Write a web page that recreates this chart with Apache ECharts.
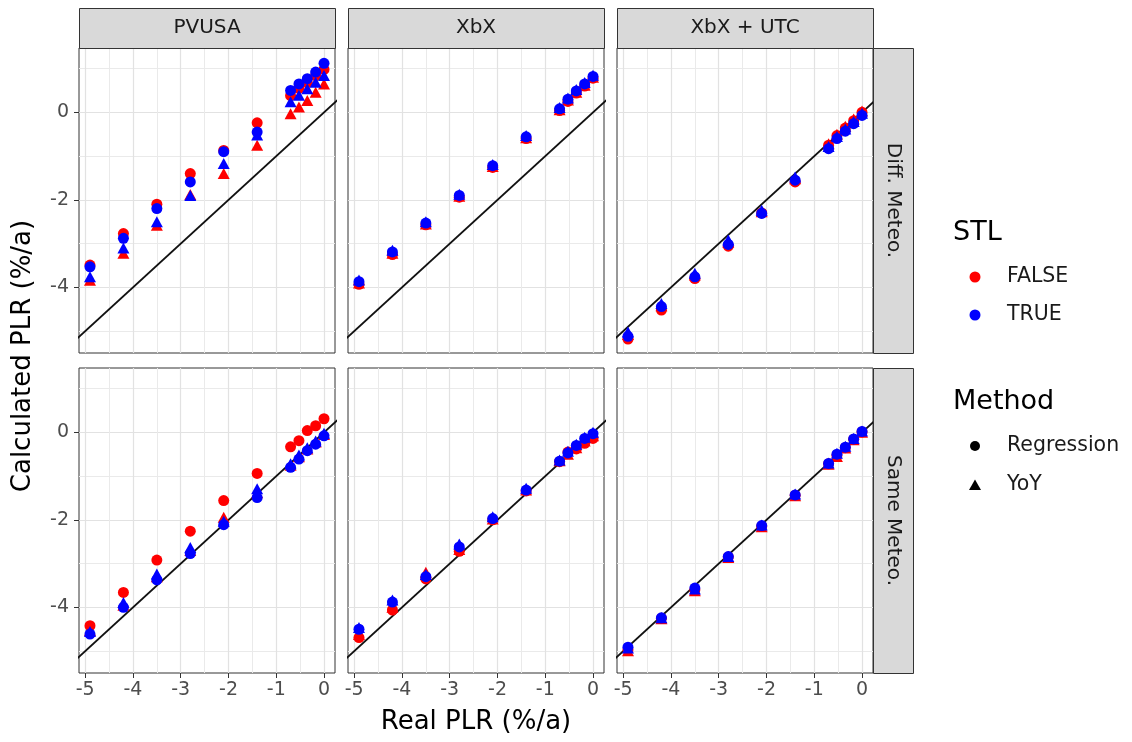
<!DOCTYPE html>
<html><head><meta charset="utf-8">
<script src="https://cdn.jsdelivr.net/npm/echarts@6/dist/echarts.min.js"></script>
<style>html,body{margin:0;padding:0;background:#fff}#c{width:1132px;height:742px}</style>
</head><body><div id="c"></div><script>
// ---------- data ----------
const realPLR = [-4.9, -4.2, -3.5, -2.8, -2.1, -1.4, -0.7, -0.525, -0.35, -0.175, 0];
const xMajorTicks = [-5, -4, -3, -2, -1, 0];
const xMinorTicks = [-4.5, -3.5, -2.5, -1.5, -0.5];
const yMajorTicks = [-4, -2, 0];
const yMinorTicks = [-5, -3, -1, 1];
const identityLine = [-6, 2];
const columnLabels = ['PVUSA', 'XbX', 'XbX + UTC'];
const rowLabels = ['Diff. Meteo.', 'Same Meteo.'];
const stlLevels = ['FALSE', 'TRUE'];
const methodLevels = ['Regression', 'YoY'];

// Diff. Meteo. row
const pvusaDiff_RegFALSE = [-3.49, -2.77, -2.10, -1.40, -0.87, -0.24, 0.38, 0.55, 0.68, 0.84, 0.98];
const pvusaDiff_YoyFALSE = [-3.84, -3.22, -2.58, -1.88, -1.40, -0.75, -0.03, 0.12, 0.27, 0.46, 0.65];
const pvusaDiff_RegTRUE  = [-3.53, -2.88, -2.20, -1.59, -0.90, -0.45, 0.50, 0.65, 0.77, 0.92, 1.12];
const pvusaDiff_YoyTRUE  = [-3.76, -3.10, -2.50, -1.90, -1.17, -0.52, 0.24, 0.39, 0.54, 0.69, 0.84];

const xbxDiff_RegFALSE = [-3.93, -3.25, -2.57, -1.94, -1.26, -0.60, 0.04, 0.25, 0.44, 0.60, 0.78];
const xbxDiff_YoyFALSE = [-3.90, -3.22, -2.55, -1.92, -1.24, -0.58, 0.06, 0.28, 0.46, 0.62, 0.80];
const xbxDiff_RegTRUE  = [-3.87, -3.19, -2.53, -1.90, -1.22, -0.56, 0.08, 0.30, 0.49, 0.65, 0.82];
const xbxDiff_YoyTRUE  = [-3.83, -3.15, -2.50, -1.87, -1.19, -0.53, 0.11, 0.33, 0.52, 0.68, 0.85];

const utcDiff_RegFALSE = [-5.18, -4.52, -3.80, -3.06, -2.30, -1.59, -0.75, -0.53, -0.36, -0.19, 0.00];
const utcDiff_YoyFALSE = [-5.08, -4.42, -3.72, -2.97, -2.27, -1.52, -0.72, -0.50, -0.32, -0.15, 0.03];
const utcDiff_RegTRUE  = [-5.12, -4.44, -3.76, -3.02, -2.31, -1.55, -0.83, -0.60, -0.43, -0.26, -0.07];
const utcDiff_YoyTRUE  = [-5.02, -4.37, -3.68, -2.92, -2.24, -1.48, -0.78, -0.55, -0.38, -0.21, -0.02];

// Same Meteo. row
const pvusaSame_RegFALSE = [-4.42, -3.66, -2.92, -2.26, -1.56, -0.94, -0.33, -0.19, 0.04, 0.15, 0.31];
const pvusaSame_YoyFALSE = [-4.53, -3.95, -3.30, -2.70, -1.94, -1.38, -0.75, -0.56, -0.38, -0.22, -0.05];
const pvusaSame_RegTRUE  = [-4.61, -4.00, -3.37, -2.77, -2.11, -1.49, -0.80, -0.61, -0.42, -0.27, -0.08];
const pvusaSame_YoyTRUE  = [-4.55, -3.89, -3.24, -2.63, -2.03, -1.29, -0.72, -0.52, -0.35, -0.20, -0.02];

const xbxSame_RegFALSE = [-4.69, -4.06, -3.35, -2.72, -2.00, -1.34, -0.67, -0.45, -0.38, -0.25, -0.14];
const xbxSame_YoyFALSE = [-4.62, -4.00, -3.20, -2.68, -1.98, -1.32, -0.65, -0.50, -0.35, -0.20, -0.08];
const xbxSame_RegTRUE  = [-4.50, -3.88, -3.30, -2.62, -1.97, -1.32, -0.66, -0.47, -0.30, -0.14, -0.03];
const xbxSame_YoyTRUE  = [-4.46, -3.83, -3.25, -2.55, -1.93, -1.28, -0.63, -0.43, -0.27, -0.11, 0.00];

const utcSame_RegFALSE = [-4.97, -4.25, -3.60, -2.85, -2.15, -1.44, -0.72, -0.53, -0.35, -0.16, 0.01];
const utcSame_YoyFALSE = [-4.99, -4.26, -3.62, -2.86, -2.16, -1.45, -0.73, -0.55, -0.36, -0.17, 0.00];
const utcSame_RegTRUE  = [-4.91, -4.24, -3.56, -2.84, -2.13, -1.43, -0.71, -0.50, -0.34, -0.15, 0.02];
const utcSame_YoyTRUE  = [-4.93, -4.24, -3.58, -2.84, -2.12, -1.41, -0.70, -0.48, -0.32, -0.14, 0.03];

// ---------- layout ----------
const X_MIN = -5.13, X_MAX = 0.23, Y_MIN = -5.5, Y_MAX = 1.47;
const colLeft = [79, 348, 617], panelW = 256;
const rowTop = [48, 368], panelH = 305;
const FONT = 'DejaVu Sans';
const RED = '#FF0000', BLUE = '#0000FF';

const panelData = [
  [pvusaDiff_RegFALSE, pvusaDiff_YoyFALSE, pvusaDiff_RegTRUE, pvusaDiff_YoyTRUE],
  [xbxDiff_RegFALSE, xbxDiff_YoyFALSE, xbxDiff_RegTRUE, xbxDiff_YoyTRUE],
  [utcDiff_RegFALSE, utcDiff_YoyFALSE, utcDiff_RegTRUE, utcDiff_YoyTRUE],
  [pvusaSame_RegFALSE, pvusaSame_YoyFALSE, pvusaSame_RegTRUE, pvusaSame_YoyTRUE],
  [xbxSame_RegFALSE, xbxSame_YoyFALSE, xbxSame_RegTRUE, xbxSame_YoyTRUE],
  [utcSame_RegFALSE, utcSame_YoyFALSE, utcSame_RegTRUE, utcSame_YoyTRUE]
];
const seriesStyle = [
  {color: RED, symbol: 'circle', size: 11},
  {color: RED, symbol: 'triangle', size: [12, 11]},
  {color: BLUE, symbol: 'circle', size: 11},
  {color: BLUE, symbol: 'triangle', size: [12, 11]}
];

const grids = [], xAxes = [], yAxes = [], series = [], graphics = [];
for (let r = 0; r < 2; r++) {
  for (let c = 0; c < 3; c++) {
    const p = r * 3 + c;
    grids.push({left: colLeft[c], top: rowTop[r], width: panelW, height: panelH,
      show: true, backgroundColor: '#fff', borderColor: '#333333', borderWidth: 1, containLabel: false});
    // major x axis (labels, ticks, major grid)
    xAxes.push({type: 'value', gridIndex: p, min: X_MIN, max: X_MAX, position: 'bottom',
      axisLine: {show: false, onZero: false},
      axisTick: {show: r === 1, customValues: xMajorTicks, length: 5, lineStyle: {color: '#333333', width: 1}},
      axisLabel: {show: r === 1, customValues: xMajorTicks, color: '#4D4D4D', fontSize: 19, fontFamily: FONT, margin: 8},
      splitLine: {show: true, lineStyle: {color: '#E2E2E2', width: 1.2}}});
    // minor x axis (minor grid only)
    xAxes.push({type: 'value', gridIndex: p, min: X_MIN, max: X_MAX, position: 'bottom',
      axisLine: {show: false, onZero: false},
      axisTick: {show: false, customValues: xMinorTicks},
      axisLabel: {show: false, customValues: xMinorTicks},
      splitLine: {show: true, lineStyle: {color: '#EAEAEA', width: 1}}});
    yAxes.push({type: 'value', gridIndex: p, min: Y_MIN, max: Y_MAX, position: 'left',
      axisLine: {show: false, onZero: false},
      axisTick: {show: c === 0, customValues: yMajorTicks, length: 5, lineStyle: {color: '#333333', width: 1}},
      axisLabel: {show: c === 0, customValues: yMajorTicks, color: '#4D4D4D', fontSize: 19, fontFamily: FONT, margin: 10},
      splitLine: {show: true, lineStyle: {color: '#E2E2E2', width: 1.2}}});
    yAxes.push({type: 'value', gridIndex: p, min: Y_MIN, max: Y_MAX, position: 'left',
      axisLine: {show: false, onZero: false},
      axisTick: {show: false, customValues: yMinorTicks},
      axisLabel: {show: false, customValues: yMinorTicks},
      splitLine: {show: true, lineStyle: {color: '#EAEAEA', width: 1}}});
    // identity line
    series.push({type: 'line', xAxisIndex: 2 * p, yAxisIndex: 2 * p, data: identityLine.map(v => [v, v]),
      symbol: 'none', silent: true, clip: true, lineStyle: {color: '#111111', width: 1.8}, z: 2});
    panelData[p].forEach((vals, k) => {
      const st = seriesStyle[k];
      series.push({type: 'scatter', xAxisIndex: 2 * p, yAxisIndex: 2 * p,
        name: stlLevels[k >> 1] + ' ' + methodLevels[k & 1],
        data: realPLR.map((x, i) => [x, vals[i]]),
        symbol: st.symbol, symbolSize: st.size,
        itemStyle: {color: st.color, opacity: 1}, z: 3 + k});
    });
  }
}

// strips
columnLabels.forEach((lab, c) => {
  graphics.push({type: 'rect', shape: {x: colLeft[c] + 0.5, y: 8.5, width: panelW, height: 40},
    style: {fill: '#D9D9D9', stroke: '#333333', lineWidth: 1}, z: 10});
  graphics.push({type: 'text', x: colLeft[c] + panelW / 2, y: 28,
    style: {text: lab, fill: '#1A1A1A', font: '20px "DejaVu Sans"', align: 'center', verticalAlign: 'middle'}, z: 11});
});
rowLabels.forEach((lab, r) => {
  graphics.push({type: 'rect', shape: {x: colLeft[2] + panelW + 0.5, y: rowTop[r] + 0.5, width: 40, height: panelH},
    style: {fill: '#D9D9D9', stroke: '#333333', lineWidth: 1}, z: 10});
  graphics.push({type: 'text', x: colLeft[2] + panelW + 20, y: rowTop[r] + panelH / 2, rotation: -Math.PI / 2,
    style: {text: lab, fill: '#1A1A1A', font: '20px "DejaVu Sans"', align: 'center', verticalAlign: 'middle'}, z: 11});
});
// axis titles
graphics.push({type: 'text', x: 476, y: 722,
  style: {text: 'Real PLR (%/a)', fill: '#000', font: '26px "DejaVu Sans"', align: 'center', verticalAlign: 'middle'}});
graphics.push({type: 'text', x: 23, y: 356, rotation: Math.PI / 2,
  style: {text: 'Calculated PLR (%/a)', fill: '#000', font: '26px "DejaVu Sans"', align: 'center', verticalAlign: 'middle'}});
// legend
graphics.push({type: 'text', x: 953, y: 233,
  style: {text: 'STL', fill: '#000', font: '27px "DejaVu Sans"', align: 'left', verticalAlign: 'middle'}});
[[RED, stlLevels[0], 277], [BLUE, stlLevels[1], 315]].forEach(([col, lab, y]) => {
  graphics.push({type: 'circle', shape: {cx: 975, cy: y, r: 5.5}, style: {fill: col}});
  graphics.push({type: 'text', x: 1007, y: y,
    style: {text: lab, fill: '#1A1A1A', font: '20.5px "DejaVu Sans"', align: 'left', verticalAlign: 'middle'}});
});
graphics.push({type: 'text', x: 953, y: 402,
  style: {text: 'Method', fill: '#000', font: '27px "DejaVu Sans"', align: 'left', verticalAlign: 'middle'}});
graphics.push({type: 'circle', shape: {cx: 975, cy: 446, r: 5}, style: {fill: '#000'}});
graphics.push({type: 'text', x: 1007, y: 446,
  style: {text: methodLevels[0], fill: '#1A1A1A', font: '20.5px "DejaVu Sans"', align: 'left', verticalAlign: 'middle'}});
graphics.push({type: 'polygon', shape: {points: [[975, 479.5], [981, 490], [969, 490]]}, style: {fill: '#000'}});
graphics.push({type: 'text', x: 1007, y: 485,
  style: {text: methodLevels[1], fill: '#1A1A1A', font: '20.5px "DejaVu Sans"', align: 'left', verticalAlign: 'middle'}});

const chart = echarts.init(document.getElementById('c'), null, {renderer: 'canvas'});
chart.setOption({
  animation: false,
  backgroundColor: '#fff',
  textStyle: {fontFamily: FONT},
  grid: grids, xAxis: xAxes, yAxis: yAxes, series: series,
  graphic: {elements: graphics}
});
</script></body></html>
